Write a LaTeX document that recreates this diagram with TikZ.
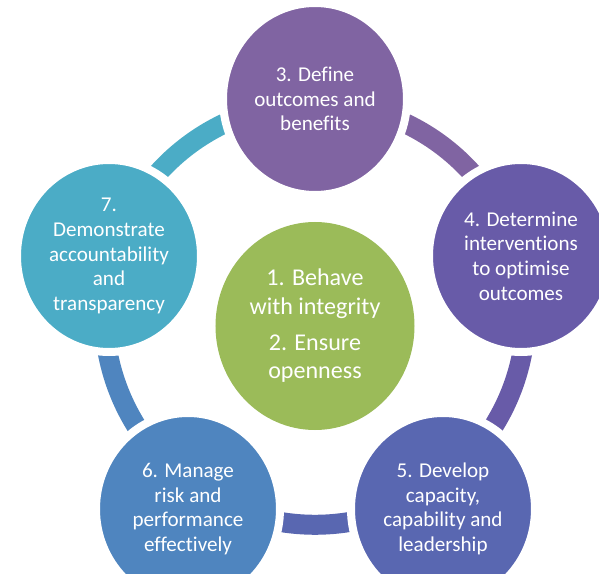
\documentclass[tikz,border=0pt]{standalone}
\usepackage{fontspec}
\setmainfont{Carlito}[Ligatures=NoCommon]
\usepackage{xcolor}
\usepackage{tikz}
\usetikzlibrary{shapes.geometric}
\definecolor{coregreen}{HTML}{9BBB59}
\definecolor{stagethree}{HTML}{8064A2}
\definecolor{stagefour}{HTML}{685BA8}
\definecolor{stagefive}{HTML}{5967B1}
\definecolor{stagesix}{HTML}{4F85BF}
\definecolor{stageseven}{HTML}{4BACC6}
\tikzset{
  stage/.style={ellipse, minimum width=3.68cm, minimum height=3.84cm, inner sep=0pt, draw=white, line width=0.16cm, text=white, align=center, font=\fontsize{12}{14}\selectfont},
  core/.style={ellipse, minimum width=3.98cm, minimum height=4.16cm, inner sep=0pt, text=white, align=center, font=\fontsize{13.7}{16.2}\selectfont},
  ringline/.style={line width=0.4cm, bend left=36, looseness=0.94},
}

\begin{document}
\begin{tikzpicture}
\useasboundingbox (-6.30,-4.94) rectangle (5.68,6.52);

% points on the ring, one under each stage
\coordinate (r3) at (0,4.46);
\coordinate (r4) at (4.013,1.544);
\coordinate (r5) at (2.480,-3.174);
\coordinate (r6) at (-2.480,-3.174);
\coordinate (r7) at (-4.013,1.544);

\draw[ringline, draw=stageseven] (r7) to (r3);
\draw[ringline, draw=stagethree] (r3) to (r4);
\draw[ringline, draw=stagefour] (r4) to (r5);
\draw[ringline, draw=stagefive] (r5) to (r6);
\draw[ringline, draw=stagesix] (r6) to (r7);

\node[core, fill=coregreen] (core) at (0,0) {1. Behave\\with integrity\\[4.4pt]2. Ensure\\openness};

\node[stage, fill=stagethree] (define) at (0,4.54) {3. Define\\outcomes and\\benefits};
\node[stage, fill=stagefour] (determine) at (4.12,1.40) {4. Determine\\interventions\\to optimise\\outcomes};
\node[stage, fill=stagefive] (develop) at (2.56,-3.66) {5. Develop\\capacity,\\capability and\\leadership};
\node[stage, fill=stagesix] (manage) at (-2.54,-3.66) {6. Manage\\risk and\\performance\\effectively};
\node[stage, fill=stageseven] (demonstrate) at (-4.12,1.40) {7.\\Demonstrate\\accountability\\and\\transparency};
\end{tikzpicture}
\end{document}
